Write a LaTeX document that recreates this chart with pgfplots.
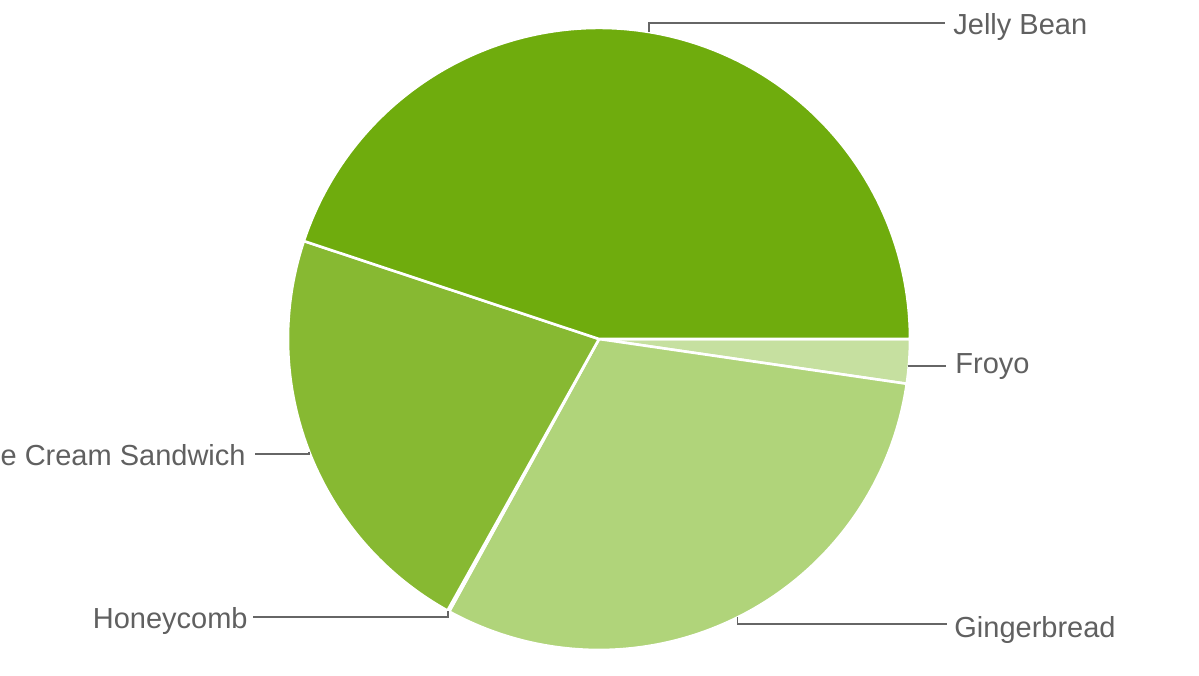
\documentclass[border=0pt]{standalone}
\usepackage{pgfplots}
\usepackage{pgfplotstable}
\pgfplotsset{compat=1.18}
\usetikzlibrary{calc}
\usepackage{fontspec}
\setmainfont{Liberation Sans}

\definecolor{froyo}{HTML}{C6E0A0}
\definecolor{ginger}{HTML}{B0D47A}
\definecolor{honey}{HTML}{9CC65E}
\definecolor{ics}{HTML}{87B932}
\definecolor{jelly}{HTML}{6FAC0D}
\definecolor{labelgray}{HTML}{606060}
\definecolor{leadgray}{HTML}{666666}

% share of devices, %, clockwise from 3 o'clock
\pgfplotstableread{
idx value
0 2.3
1 30.7
2 0.1
3 22.0
4 44.9
}\piedata

\pgfplotstablegetelem{0}{value}\of\piedata \pgfmathsetmacro\vA{\pgfplotsretval}
\pgfplotstablegetelem{1}{value}\of\piedata \pgfmathsetmacro\vB{\pgfplotsretval}
\pgfplotstablegetelem{2}{value}\of\piedata \pgfmathsetmacro\vC{\pgfplotsretval}
\pgfplotstablegetelem{3}{value}\of\piedata \pgfmathsetmacro\vD{\pgfplotsretval}
\pgfplotstablegetelem{4}{value}\of\piedata \pgfmathsetmacro\vE{\pgfplotsretval}

\pgfmathsetmacro\aA{-3.6*\vA}
\pgfmathsetmacro\aB{\aA-3.6*\vB}
\pgfmathsetmacro\aC{\aB-3.6*\vC}
\pgfmathsetmacro\aD{\aC-3.6*\vD}
\pgfmathsetmacro\aE{\aD-3.6*\vE}
\pgfmathsetmacro\mA{\aA/2}
\pgfmathsetmacro\mB{(\aA+\aB)/2}
\pgfmathsetmacro\mC{(\aB+\aC)/2}
\pgfmathsetmacro\mD{(\aC+\aD)/2}
\pgfmathsetmacro\mE{(\aD+\aE)/2}
\def\R{155.5pt}

\tikzset{
  slice/.style={draw=white, line width=1.3pt, line join=round},
  lead/.style={draw=leadgray, line width=0.9pt},
  lab/.style={inner sep=0pt, text=labelgray, font=\fontsize{14.5}{17}\selectfont},
}

\begin{document}
\begin{tikzpicture}
\begin{axis}[
    name=ax,
    x=0.5pt, y=0.5pt,
    xmin=0, xmax=1199, ymin=0, ymax=675,
    scale only axis,
    hide axis,
    clip=false,
]
\coordinate (c) at (axis cs:599,336);
\fill[froyo, slice]  (c) -- ++(0:\R) arc[start angle=0, end angle=\aA, radius=\R] -- cycle;
\fill[ginger, slice] (c) -- ++(\aA:\R) arc[start angle=\aA, end angle=\aB, radius=\R] -- cycle;
\fill[honey, slice]  (c) -- ++(\aB:\R) arc[start angle=\aB, end angle=\aC, radius=\R] -- cycle;
\fill[ics, slice]    (c) -- ++(\aC:\R) arc[start angle=\aC, end angle=\aD, radius=\R] -- cycle;
\fill[jelly, slice]  (c) -- ++(\aD:\R) arc[start angle=\aD, end angle=\aE, radius=\R] -- cycle;

% leader lines
\draw[lead] ($(c)+(\mE:\R)$) |- (axis cs:945,652);
\draw[lead] (axis cs:908,309) -- (axis cs:946,309);
\draw[lead] ($(c)+(\mB:\R)$) |- (axis cs:947,51);
\draw[lead] ($(c)+(\mC:\R)$) |- (axis cs:253,58);
\draw[lead] ($(c)+(\mD:\R)$) |- (axis cs:255,221);

\node[lab, anchor=base west] at (axis cs:953,640) {Jelly Bean};
\node[lab, anchor=base west] at (axis cs:955,301) {Froyo};
\node[lab, anchor=base west] at (axis cs:954,38) {Gingerbread};
\node[lab, anchor=base east] at (axis cs:248,47) {Honeycomb};
\node[lab, anchor=base east] at (axis cs:246,209) {Ice Cream Sandwich};
\end{axis}
\pgfresetboundingbox
\useasboundingbox (ax.south west) rectangle (ax.north east);
\end{tikzpicture}
\end{document}
